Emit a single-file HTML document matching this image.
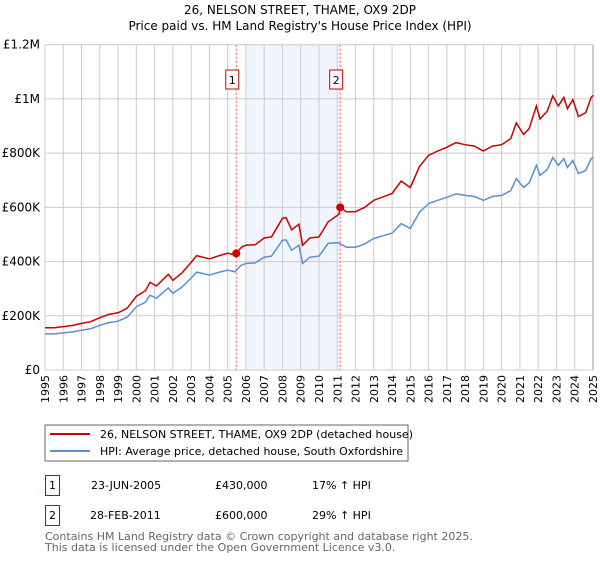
<!DOCTYPE html>
<html><head><meta charset="utf-8"><style>
body{margin:0;background:#fff;width:600px;height:560px;overflow:hidden;font-family:"DejaVu Sans","Liberation Sans",sans-serif}
svg text{font-family:"DejaVu Sans","Liberation Sans",sans-serif}
</style></head><body>
<svg id="c" width="600" height="560" viewBox="0 0 600 560">
<text x="300" y="14" text-anchor="middle" font-size="12">26, NELSON STREET, THAME, OX9 2DP</text>
<text x="300" y="30" text-anchor="middle" font-size="12">Price paid vs. HM Land Registry's House Price Index (HPI)</text>
<g id="grid"></g><g id="plot"></g><g id="axes"></g>
<rect x="45" y="425" width="363" height="36" fill="#fff" stroke="#666"/>
<line x1="50" y1="434" x2="90" y2="434" stroke="#cc0000" stroke-width="2"/>
<text x="100" y="438" font-size="11">26, NELSON STREET, THAME, OX9 2DP (detached house)</text>
<line x1="50" y1="451" x2="90" y2="451" stroke="#5b8fd4" stroke-width="2"/>
<text x="100" y="455" font-size="11">HPI: Average price, detached house, South Oxfordshire</text>
<g font-size="11">
<rect x="45.5" y="475.5" width="14" height="20" fill="#fff" stroke="#cc0000"/>
<text x="52.5" y="489" text-anchor="middle">1</text>
<text x="91" y="489">23-JUN-2005</text><text x="215" y="489">£430,000</text><text x="312" y="489">17% ↑ HPI</text>
<rect x="45.5" y="505.5" width="14" height="20" fill="#fff" stroke="#cc0000"/>
<text x="52.5" y="519" text-anchor="middle">2</text>
<text x="90" y="519">28-FEB-2011</text><text x="215" y="519">£600,000</text><text x="312" y="519">29% ↑ HPI</text>
</g>
<text x="45" y="540" font-size="11" fill="#666">Contains HM Land Registry data © Crown copyright and database right 2025.</text>
<text x="45" y="551" font-size="11" fill="#666">This data is licensed under the Open Government Licence v3.0.</text>
</svg>
<script>
const dates=[1995,1995.5,1996,1996.5,1997,1997.5,1998,1998.5,1999,1999.5,2000,2000.5,2000.75,2001.1,2001.75,2002,2002.5,2003,2003.3,2004,2004.5,2005,2005.4,2005.47,2005.75,2006,2006.5,2007,2007.4,2008,2008.2,2008.5,2008.9,2009.1,2009.5,2010,2010.5,2011.1,2011.16,2011.5,2012,2012.5,2013,2014,2014.5,2015,2015.5,2016,2016.5,2017,2017.5,2018,2018.5,2019,2019.5,2020,2020.5,2020.8,2021.2,2021.5,2021.9,2022.1,2022.5,2022.8,2023.1,2023.4,2023.6,2023.9,2024.2,2024.6,2024.9,2025];
const hpiValues=[133,133,137,140,147,152,165,175,180,195,233,250,276,265,302,283,306,339,361,350,360,368,362,368,387,393,395,416,420,479,480,442,460,393,416,420,467,470,465,453,453,465,485,505,540,522,582,614,626,637,650,644,640,626,640,644,662,706,674,690,755,718,740,784,755,780,747,773,725,736,780,785];
const priceValues=[156,156,160,164,172,178,193,205,211,228,272,293,323,310,353,331,358,397,422,410,421,431,424,430,453,460,462,487,491,560,562,517,538,460,487,491,546,575,600,584,584,600,626,651,697,673,751,792,808,822,839,831,826,808,826,831,854,911,869,890,974,926,955,1011,974,1006,964,997,935,949,1006,1013];
const saleDates=[2005.47,2011.16];
const saleValues=[430,600];
const saleLabels=["1","2"];
const yTicks=[0,200,400,600,800,1000,1200];
const yTickLabels=["£0","£200K","£400K","£600K","£800K","£1M","£1.2M"];
const xTicks=[1995,1996,1997,1998,1999,2000,2001,2002,2003,2004,2005,2006,2007,2008,2009,2010,2011,2012,2013,2014,2015,2016,2017,2018,2019,2020,2021,2022,2023,2024,2025];
const shadeRange=[2006,2011.16];
const X0=45,X1=593,Y0=370,Y1=44.7;
const x=d=>X0+(d-1995)/30*(X1-X0);
const y=v=>Y0-v/1200*(Y0-Y1);
const NS="http://www.w3.org/2000/svg";
function mk(t,a,p){const e=document.createElementNS(NS,t);for(const k in a)e.setAttribute(k,a[k]);p.appendChild(e);return e;}
const grid=document.getElementById('grid'),plot=document.getElementById('plot'),axes=document.getElementById('axes');
const sh=mk('rect',{x:x(shadeRange[0]),y:Y1,width:x(shadeRange[1])-x(shadeRange[0]),height:Y0-Y1,fill:'#eef3fc',opacity:0.8},grid);


xTicks.forEach(t=>{const l=mk('line',{x1:x(t),x2:x(t),y1:Y1,y2:Y0,stroke:'#ccc'},grid);


const tx=mk('text',{x:0,y:0,'font-size':11,'text-anchor':'end',transform:`translate(${x(t)+4},${Y0+5}) rotate(-90)`},axes);tx.textContent=t;

});
yTicks.forEach((t,i)=>{const l=mk('line',{x1:X0,x2:X1,y1:y(t),y2:y(t),stroke:'#ccc'},grid);


const tx=mk('text',{x:40,y:y(t)+4,'font-size':12,'text-anchor':'end'},axes);tx.textContent=yTickLabels[i];

});
const edge=mk('line',{x1:X1,x2:X1,y1:Y1,y2:Y0,stroke:'#999'},grid);


saleDates.forEach((d,i)=>{const l=mk('line',{x1:x(d),x2:x(d),y1:Y1,y2:Y0,stroke:'#e55','stroke-dasharray':'2,2'},plot);


const r=mk('rect',{x:x(d)-10.5,y:70,width:13,height:19,fill:'#fff',stroke:'#cc0000'},plot);


const t=mk('text',{x:x(d)-4,y:84,'font-size':11,'text-anchor':'middle'},plot);t.textContent=saleLabels[i];

});
const path=vals=>vals.map((v,i)=>(i?'L':'M')+x(dates[i]).toFixed(1)+','+y(v).toFixed(1)).join('');
const hp=mk('path',{d:path(hpiValues),fill:'none',stroke:'#5b8fd4','stroke-width':1.5},plot);


const pp=mk('path',{d:path(priceValues),fill:'none',stroke:'#cc0000','stroke-width':1.5},plot);


saleDates.forEach((d,i)=>{const c=mk('circle',{cx:x(d),cy:y(saleValues[i]),r:4,fill:'#cc0000'},plot);

});
</script>
</body></html>
